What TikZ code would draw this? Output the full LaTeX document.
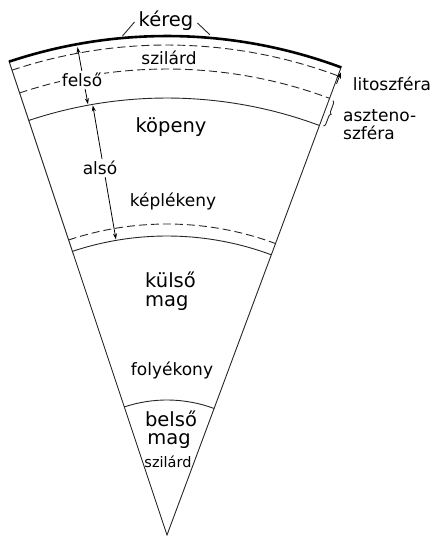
\documentclass[tikz,border=0pt]{standalone}
\usepackage{fontspec}
\setmainfont{DejaVu Sans}
\usetikzlibrary{arrows.meta,calc,decorations.pathreplacing}
\begin{document}
\begin{tikzpicture}[x=1pt,y=1pt,
  thinline/.style={line width=0.9pt, black!85},
  dashline/.style={thinline, dash pattern=on 8pt off 4pt},
  crust/.style={line width=2.6pt, black},
  big/.style={font=\fontsize{19.5}{20}\selectfont, inner sep=0pt, anchor=base},
  mid/.style={font=\fontsize{17}{18}\selectfont, inner sep=0pt, anchor=base},
  small/.style={font=\fontsize{14.5}{15}\selectfont, inner sep=0pt, anchor=base},
  masked/.style={fill=white, inner sep=2pt},
  dimarrow/.style={{Stealth[length=6pt,width=4pt]}-{Stealth[length=6pt,width=4pt]}, line width=0.8pt},
  onearrow/.style={-{Stealth[length=6pt,width=4.5pt]}, line width=0.8pt},
]
\useasboundingbox (0,0) rectangle (433,536);
\def\al{108.44}
\def\ar{69.58}
\coordinate (A) at (167,1);

% wedge sides
\coordinate (TL) at ([shift={(A)}]\al:500);
\coordinate (TR) at ([shift={(A)}]\ar:500);
\draw[thinline] (TL) -- (A) -- (TR);

% layer boundaries (radius in pt from the centre)
\draw[crust]    ([shift={(A)}]\al:499) arc[start angle=\al, end angle=\ar, radius=499];
\draw[dashline] ([shift={(A)}]\al:490) arc[start angle=\al, end angle=\ar, radius=490];
\draw[dashline] ([shift={(A)}]\al:466) arc[start angle=\al, end angle=\ar, radius=466];
\draw[thinline] ([shift={(A)}]\al:437) arc[start angle=\al, end angle=\ar, radius=437];
\draw[dashline] ([shift={(A)}]\al:311) arc[start angle=\al, end angle=\ar, radius=311];
\draw[thinline] ([shift={(A)}]\al:299) arc[start angle=\al, end angle=\ar, radius=299];
\draw[thinline] ([shift={(A)}]\al:135) arc[start angle=\al, end angle=\ar, radius=135];

% crust label with leaders
\node[big] (kereg) at (166,509) {kéreg};
\coordinate (kl) at ([shift={(A)}]95.1:501);
\coordinate (kr) at ([shift={(A)}]85.1:502);
\draw[thinline] ($(kereg.base west)+(-4,5)$) -- (kl);
\draw[thinline] ($(kereg.base east)+(4,4)$) -- (kr);

% upper and lower mantle spans
\coordinate (fu) at ([shift={(A)}]100.4:496);
\coordinate (fl) at ([shift={(A)}]100.4:438);
\draw[dimarrow] (fl) -- (fu);
\coordinate (au) at ([shift={(A)}]99.8:436);
\coordinate (ad) at ([shift={(A)}]99.8:300);
\draw[dimarrow] (au) -- (ad);
\node[mid, masked, anchor=base] (felso) at (82,449) {felső};
\node[mid, masked, anchor=base] (also) at (100,361) {alsó};

% lithosphere and asthenosphere marks
\coordinate (lb) at ($(A)+(\ar:482)+(\ar-90:1.5)$);
\coordinate (lt) at ($(A)+(\ar:494)+(\ar-90:1.5)$);
\draw[onearrow] (lb) -- (lt);
\coordinate (bt) at ($(A)+(\ar:465)+(\ar-90:4)$);
\coordinate (bb) at ($(A)+(\ar:438)+(\ar-90:4)$);
\draw[thinline, decorate, decoration={brace, amplitude=3pt}] (bt) -- (bb);

\node[mid] (lito) at (392,445) {litoszféra};
\node[mid, anchor=base west] (aszt1) at (343,414) {aszteno-};
\node[mid, anchor=base west] (aszt2) at (343,396) {szféra};

% layer names
\node[mid] (szil1) at (169,471) {szilárd};
\node[big] (kopeny) at (171,403) {köpeny};
\node[mid] (keplek) at (173,329) {képlékeny};
\node[big, anchor=base west] (kulso) at (145,248) {külső};
\node[big, anchor=base west] (mag1) at (145,229) {mag};
\node[mid] (folyek) at (172,160) {folyékony};
\node[big] (belso) at (171,109) {belső};
\node[big] (mag2) at (169,91) {mag};
\node[small] (szil2) at (168,68) {szilárd};
\end{tikzpicture}
\end{document}
